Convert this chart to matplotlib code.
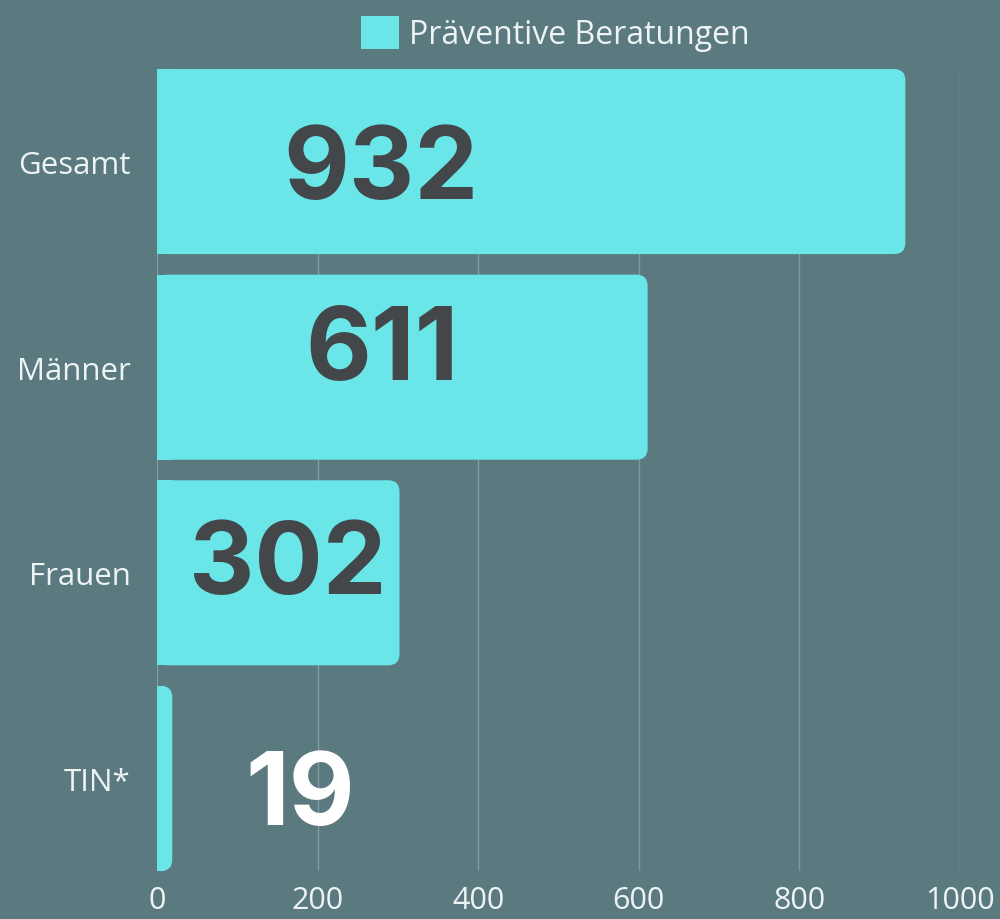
import matplotlib
matplotlib.use('Agg')
import matplotlib.pyplot as plt
from matplotlib.patches import FancyBboxPatch, Rectangle, Patch

BG = '#5a7a7f'
BAR = '#6ae6e8'
NUM_DARK = '#43474a'
LABELS = '#eef4f4'
GRID = '#7f9ca0'

categories = ['Gesamt', 'Männer', 'Frauen', 'TIN*']
values = [932, 611, 302, 19]
value_text = ['932', '611', '302', '19']
legend_label = 'Präventive Beratungen'
x_ticks = [0, 200, 400, 600, 800, 1000]

# where the big numbers sit (data x, y offset in category units)
label_x = [279, 280, 163, 178]
label_dy = [0.05, -0.07, -0.03, 0.095]
label_color = [NUM_DARK, NUM_DARK, NUM_DARK, 'white']

fig = plt.figure(figsize=(10, 9.2), dpi=100, facecolor=BG)
ax = fig.add_axes([0.157, 0.0522, 0.803, 0.8717])
ax.set_facecolor(BG)

y = list(range(len(categories)))
bars = ax.barh(y, values, height=0.9, color=BAR, zorder=3)

ax.set_xlim(0, 1000)
ax.set_ylim(3.45, -0.45)

# rounded right-hand corners
aspect = (3.9 / 802) / (1000 / 803)
for b in bars:
    b.set_visible(False)
    x0, y0, w, h = b.get_x(), b.get_y(), b.get_width(), b.get_height()
    ax.add_patch(FancyBboxPatch((x0, y0), w, h,
                                boxstyle='round,pad=0,rounding_size=14',
                                mutation_aspect=aspect, fc=BAR, ec='none', zorder=3))
    ax.add_patch(Rectangle((x0, y0), min(w / 2, 20), h, fc=BAR, ec='none', zorder=3))

for i in y:
    ax.text(label_x[i], i + label_dy[i], value_text[i], ha='center', va='center',
            fontsize=73, fontweight='bold', family=['Inter', 'DejaVu Sans'],
            color=label_color[i], zorder=5)

ax.set_yticks(y)
ax.set_yticklabels(categories)
ax.set_xticks(x_ticks)
ax.xaxis.grid(True, color=GRID, lw=1, zorder=0)
ax.set_axisbelow(True)
for s in ax.spines.values():
    s.set_visible(False)
ax.tick_params(axis='y', length=0, pad=19, labelsize=22.5, labelcolor=LABELS)
ax.tick_params(axis='x', length=0, pad=10, labelsize=22, labelcolor=LABELS)
for t in ax.get_xticklabels() + ax.get_yticklabels():
    t.set_family(['Open Sans', 'DejaVu Sans'])

handle = Patch(fc=BAR, ec='none')
leg = fig.legend([handle], [legend_label], loc='upper center', bbox_to_anchor=(0.555, 1.013),
                 frameon=False, handlelength=1.2, handleheight=1.2,
                 handletextpad=0.3, prop={'family': ['Open Sans', 'DejaVu Sans'], 'size': 23})
for t in leg.get_texts():
    t.set_color(LABELS)

fig.savefig('out.png', facecolor=BG)
